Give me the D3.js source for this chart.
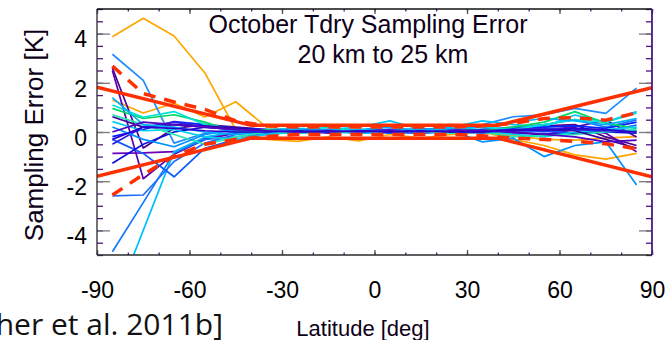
<!DOCTYPE html>
<html><head><meta charset="utf-8">
<script src="https://cdn.jsdelivr.net/npm/d3@7"></script>
<style>
html,body{margin:0;padding:0;background:#fff;}
svg{display:block;}
</style></head>
<body><svg id="chart" width="671" height="340"></svg>
<script>
// ---- data ----
const latitudes = [-85,-75,-65,-55,-45,-35,-25,-15,-5,5,15,25,35,45,55,65,75,85];
const seriesColors = ["#ffa500","#ffa500","#1e8cff","#4a0090","#5a00b0","#6a00b8","#1478ff","#00c0ff","#1e6cff","#0a5aff","#0020ff","#1010d8","#00d860","#00e0d8","#00d0f0","#20e8b0","#3c00a0","#3020e0","#0090ff","#00b0ff","#5000c0","#2a00d0"];
const s01 = [3.87,4.62,3.90,2.40,0.10,-0.30,-0.38,-0.20,-0.36,-0.10,-0.25,-0.10,0.00,-0.30,-0.55,-0.93,-1.10,-0.87];
const s02 = [1.30,0.77,1.17,0.61,1.23,0.20,0.05,0.10,0.00,0.05,0.00,0.10,0.00,-0.15,-0.30,-0.33,-0.25,-0.19];
const s03 = [3.16,2.10,-0.45,-0.05,0.10,0.05,0.10,0.00,0.05,0.10,0.05,0.12,0.30,0.62,0.70,0.96,0.76,1.78];
const s04 = [2.60,-0.65,0.15,0.30,0.20,0.10,0.05,0.10,0.00,0.05,0.10,0.05,0.10,0.10,0.25,0.30,-0.20,-0.55];
const s05 = [2.50,-1.90,-0.90,-0.30,-0.05,0.00,0.05,-0.05,0.10,0.00,-0.05,0.05,0.00,0.15,0.10,0.20,0.49,-0.20];
const s06 = [-0.87,-0.85,-0.80,-0.25,0.00,0.05,0.00,0.05,-0.05,0.05,0.00,0.10,0.05,-0.05,-0.10,0.10,-0.05,-0.80];
const s07 = [-4.87,-2.87,-0.85,-0.30,-0.20,-0.05,0.00,0.05,-0.05,0.00,0.05,0.00,0.10,0.20,0.30,0.50,0.20,0.49];
const s08 = [-7.20,-4.00,-0.80,-0.20,0.00,0.10,0.15,0.10,0.20,0.45,0.10,0.20,0.45,0.30,0.20,0.69,0.40,0.83];
const s09 = [-2.60,-2.56,-1.20,-0.45,-0.10,0.00,-0.05,0.00,0.05,0.00,-0.05,0.00,-0.05,0.05,0.00,0.10,0.05,0.28];
const s10 = [-0.30,-0.87,-1.82,-0.66,-0.30,-0.10,0.00,0.05,0.00,-0.05,0.00,0.05,0.00,0.10,0.05,-0.05,0.10,0.05];
const s11 = [-0.19,0.10,0.42,0.30,0.15,0.10,0.05,0.00,0.05,0.10,0.00,0.05,0.10,0.15,0.20,0.25,0.15,0.40];
const s12 = [-1.27,-0.50,0.00,0.20,0.10,0.05,0.00,0.05,0.00,0.05,0.10,0.00,0.05,0.00,-0.10,-0.05,0.00,-0.05];
const s13 = [0.96,0.55,0.70,0.40,0.00,0.10,0.00,0.05,0.10,0.00,0.05,0.10,0.05,0.20,0.40,0.83,0.35,0.15];
const s14 = [1.10,0.60,0.83,0.30,0.10,0.00,0.05,0.20,0.05,0.10,0.00,0.10,0.20,0.10,0.30,0.50,0.40,0.76];
const s15 = [0.42,0.05,0.10,-0.20,-0.30,-0.10,0.00,0.00,-0.05,0.00,0.10,0.00,0.05,-0.10,-0.20,0.00,0.10,0.20];
const s16 = [0.70,0.30,-0.10,-0.50,-0.20,0.00,-0.05,0.00,0.00,0.05,0.00,-0.05,0.00,-0.20,-0.15,-0.10,0.00,0.10];
const s17 = [0.62,0.20,0.30,0.25,0.15,0.05,0.00,0.00,0.05,0.00,0.05,0.00,0.00,0.05,0.10,0.05,-0.30,-0.66];
const s18 = [-0.50,0.20,0.40,0.20,0.10,0.05,0.10,0.05,0.05,0.10,0.05,0.10,0.05,0.10,0.15,0.10,0.05,0.00];
const s19 = [0.20,-0.30,-0.60,-0.10,0.10,0.00,0.05,0.10,0.00,0.05,0.15,0.05,-0.40,-0.25,-1.00,-0.55,-0.40,-2.15];
const s20 = [1.40,0.30,0.20,0.00,-0.10,0.05,0.10,0.00,0.10,0.20,0.05,0.15,0.20,0.40,0.55,0.45,0.30,0.55];
const s21 = [0.00,0.40,0.30,0.20,0.10,0.05,0.00,0.05,0.00,0.05,0.00,0.05,0.05,0.00,-0.10,-0.20,-0.40,-0.33];
const s22 = [-0.30,0.20,0.15,0.05,0.00,0.00,0.05,0.00,0.05,0.00,0.05,0.00,0.00,0.10,0.05,0.15,0.10,0.00];
const allSeries = [s01,s02,s03,s04,s05,s06,s07,s08,s09,s10,s11,s12,s13,s14,s15,s16,s17,s18,s19,s20,s21,s22];
const sigmaUpper = [2.68,1.56,1.22,0.92,0.45,0.25,0.20,0.20,0.20,0.20,0.20,0.20,0.25,0.35,0.55,0.58,0.48,0.78];
const sigmaLower = [-2.56,-1.73,-0.98,-0.50,-0.30,-0.18,-0.10,-0.10,-0.10,-0.10,-0.10,-0.10,-0.15,-0.25,-0.30,-0.38,-0.48,-0.68];
const boundLat = [-90,-40,40,90];
const boundUpper = [1.82,0.27,0.27,1.80];
const boundLower = [-1.80,-0.25,-0.25,-1.82];
const xMajorTicks = [-90,-60,-30,0,30,60,90];
const xMinorTicks = d3.range(-90,91,10);
const yMajorTicks = [-4,-2,0,2,4];
const yMinorTicks = d3.range(-5,5.01,0.5);
const titleLine1 = "October Tdry Sampling Error";
const titleLine2 = "20 km to 25 km";
const xLabel = "Latitude [deg]";
const yLabel = "Sampling Error [K]";
const caption = "her et al. 2011b]";

// ---- layout ----
const svg = d3.select("#chart");
const L = 97, R = 652, T = 9, B = 255;
const x = d3.scaleLinear().domain([-90,90]).range([L,R]);
const y = d3.scaleLinear().domain([-5,5]).range([B,T]);
const fmt = d => String(d); // plain hyphen-minus as in the original

svg.append("defs").append("clipPath").attr("id","clip")
  .append("rect").attr("x",L).attr("y",T).attr("width",R-L).attr("height",B-T);

const plot = svg.append("g").attr("clip-path","url(#clip)");
const line = d3.line().x(d=>x(d[0])).y(d=>y(d[1]));

allSeries.forEach((s,i)=>{
  plot.append("path").datum(latitudes.map((la,j)=>[la,s[j]]))
    .attr("d",line).attr("fill","none")
    .attr("stroke",seriesColors[i]).attr("stroke-width",1.7)
    .attr("stroke-linejoin","round");
});
[sigmaUpper,sigmaLower].forEach(s=>{
  plot.append("path").datum(latitudes.map((la,j)=>[la,s[j]]))
    .attr("d",line).attr("fill","none")
    .attr("stroke","#ff3000").attr("stroke-width",3.5)
    .attr("stroke-dasharray","12,9");
});
[boundUpper,boundLower].forEach(s=>{
  plot.append("path").datum(boundLat.map((la,j)=>[la,s[j]]))
    .attr("d",line).attr("fill","none")
    .attr("stroke","#ff3000").attr("stroke-width",3.5);
});

// ---- axes ----
const fontTick = "'Liberation Sans', Arial, Helvetica, sans-serif";
function styleAxis(g, tickColor){
  g.select(".domain").remove();
  g.selectAll(".tick line").attr("stroke",tickColor).attr("stroke-width",1.3);
}
// minor ticks
svg.append("g").attr("transform",`translate(${L},0)`)
  .call(d3.axisLeft(y).tickValues(yMinorTicks).tickSize(-6).tickFormat(""))
  .call(g=>styleAxis(g,"#4b1782"));
svg.append("g").attr("transform",`translate(${R},0)`)
  .call(d3.axisRight(y).tickValues(yMinorTicks).tickSize(-6).tickFormat(""))
  .call(g=>styleAxis(g,"#4b1782"));
svg.append("g").attr("transform",`translate(0,${B})`)
  .call(d3.axisBottom(x).tickValues(xMinorTicks).tickSize(-2.5).tickFormat(""))
  .call(g=>styleAxis(g,"#4b1782"));
svg.append("g").attr("transform",`translate(0,${T})`)
  .call(d3.axisTop(x).tickValues(xMinorTicks).tickSize(-2.5).tickFormat(""))
  .call(g=>styleAxis(g,"#4b1782"));
// major ticks
const yAxisL = svg.append("g").attr("transform",`translate(${L},0)`)
  .call(d3.axisLeft(y).tickValues(yMajorTicks).tickSize(-13).tickPadding(10).tickFormat(fmt));
styleAxis(yAxisL,"#7a7a7a");
yAxisL.selectAll("text").attr("font-family",fontTick).attr("font-size",23).attr("fill","#000").attr("dy","0.58em");
svg.append("g").attr("transform",`translate(${R},0)`)
  .call(d3.axisRight(y).tickValues(yMajorTicks).tickSize(-13).tickFormat(""))
  .call(g=>styleAxis(g,"#7a7a7a"));
const xAxisB = svg.append("g").attr("transform",`translate(0,${B})`)
  .call(d3.axisBottom(x).tickValues(xMajorTicks).tickSize(-5).tickPadding(27).tickFormat(fmt));
styleAxis(xAxisB,"#555");
xAxisB.selectAll("text").attr("font-family",fontTick).attr("font-size",23).attr("fill","#000");
svg.append("g").attr("transform",`translate(0,${T})`)
  .call(d3.axisTop(x).tickValues(xMajorTicks).tickSize(-5).tickFormat(""))
  .call(g=>styleAxis(g,"#555"));

// frame
svg.append("line").attr("x1",L).attr("x2",L).attr("y1",T).attr("y2",B).attr("stroke","#2a2a2a").attr("stroke-width",1.3);
svg.append("line").attr("x1",L).attr("x2",R).attr("y1",B).attr("y2",B).attr("stroke","#2a2a2a").attr("stroke-width",1.3);
svg.append("line").attr("x1",L).attr("x2",R).attr("y1",T).attr("y2",T).attr("stroke","#111").attr("stroke-width",1.3);
svg.append("line").attr("x1",R).attr("x2",R).attr("y1",T).attr("y2",B).attr("stroke","#4b1782").attr("stroke-width",1.8);

// ---- text ----
svg.append("text").attr("x",368).attr("y",33).attr("text-anchor","middle")
  .attr("font-family",fontTick).attr("font-size",25).attr("fill","#0d0018").text(titleLine1);
svg.append("text").attr("x",383).attr("y",63).attr("text-anchor","middle")
  .attr("font-family",fontTick).attr("font-size",25).attr("fill","#0d0018").text(titleLine2);
svg.append("text").attr("transform","translate(43,135) rotate(-90)").attr("text-anchor","middle")
  .attr("font-family",fontTick).attr("font-size",26).attr("fill","#0d0018").text(yLabel);
svg.append("text").attr("x",363).attr("y",336).attr("text-anchor","middle")
  .attr("font-family",fontTick).attr("font-size",22).attr("fill","#0d0018").text(xLabel);
svg.append("text").attr("x",223).attr("y",335).attr("text-anchor","end")
  .attr("font-family","'Open Sans', 'Noto Sans', sans-serif").attr("font-size",30).attr("fill","#111").text(caption);
</script>
</body></html>
